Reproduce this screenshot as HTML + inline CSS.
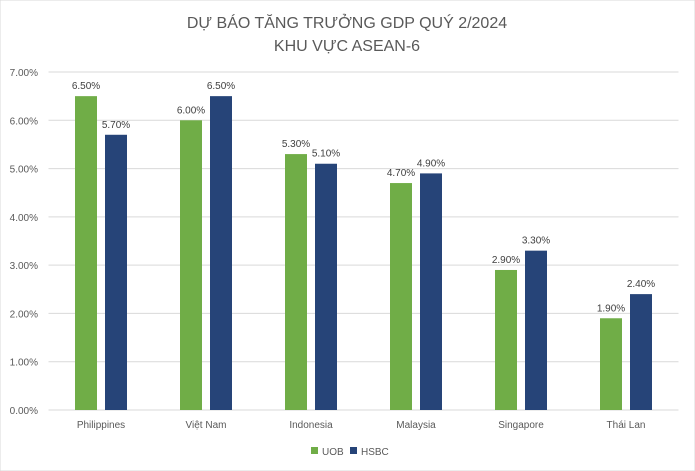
<!DOCTYPE html>
<html><head><meta charset="utf-8"><style>
body{margin:0;background:#fff;font-family:"Liberation Sans",sans-serif;}
</style></head><body>
<svg id="chart" width="695" height="471" xmlns="http://www.w3.org/2000/svg" style="display:block">
<rect width="695" height="471" fill="#fff" stroke="#d9d9d9"/>
<text x="347" y="28" text-anchor="middle" font-size="16" fill="#595959">DỰ BÁO TĂNG TRƯỞNG GDP QUÝ 2/2024</text>
<text x="347" y="51" text-anchor="middle" font-size="16" fill="#595959">KHU VỰC ASEAN-6</text>
<g id="grid"></g><g id="bars"></g><g id="labels"></g>
<g>
<rect x="311" y="447" width="7" height="7" fill="#70ad47"/>
<text x="322" y="455" font-size="10" fill="#595959">UOB</text>
<rect x="350" y="447" width="7" height="7" fill="#264478"/>
<text x="361" y="455" font-size="10" fill="#595959">HSBC</text>
</g>
</svg>
<script>
const categories=["Philippines","Việt Nam","Indonesia","Malaysia","Singapore","Thái Lan"];
const uob=[6.5,6.0,5.3,4.7,2.9,1.9];
const hsbc=[5.7,6.5,5.1,4.9,3.3,2.4];
const ticks=[0,1,2,3,4,5,6,7];
const NS="http://www.w3.org/2000/svg";
const x0=48.5,x1=678.5,y0=410,y1=72,vmax=7;
const y=v=>y0-(v/vmax)*(y0-y1);
const band=(x1-x0)/categories.length;
const cx=i=>x0+band*(i+0.5);
function mk(t,a,p){const e=document.createElementNS(NS,t);for(const k in a)e.setAttribute(k,a[k]);p.appendChild(e);return e;}
const grid=document.getElementById('grid'),bars=document.getElementById('bars'),labels=document.getElementById('labels');
ticks.forEach(t=>{
 const l=mk('line',{x1:x0,x2:x1,y1:y(t),y2:y(t),stroke:'#d9d9d9','stroke-width':1},grid);
 
 
 const tx=mk('text',{x:38,y:y(t)+4,'text-anchor':'end','font-size':10,fill:'#595959'},grid);
 tx.textContent=t.toFixed(2)+'%';
 
 
});
const bw=22,gap=8;
categories.forEach((c,i)=>{
 [[uob[i],'#70ad47',-1,'uob'],[hsbc[i],'#264478',1,'hsbc']].forEach(([v,col,s,n])=>{
  const bx=s<0?cx(i)-gap/2-bw:cx(i)+gap/2;
  const r=mk('rect',{x:bx,y:y(v),width:bw,height:y0-y(v),fill:col},bars);
  
  
  const t=mk('text',{x:bx+bw/2,y:y(v)-7,'text-anchor':'middle','font-size':10,fill:'#404040'},labels);
  t.textContent=v.toFixed(2)+'%';
  
  
 });
 const ct=mk('text',{x:cx(i),y:428,'text-anchor':'middle','font-size':10,fill:'#595959'},labels);
 ct.textContent=c;
 
 
});
</script>
</body></html>
